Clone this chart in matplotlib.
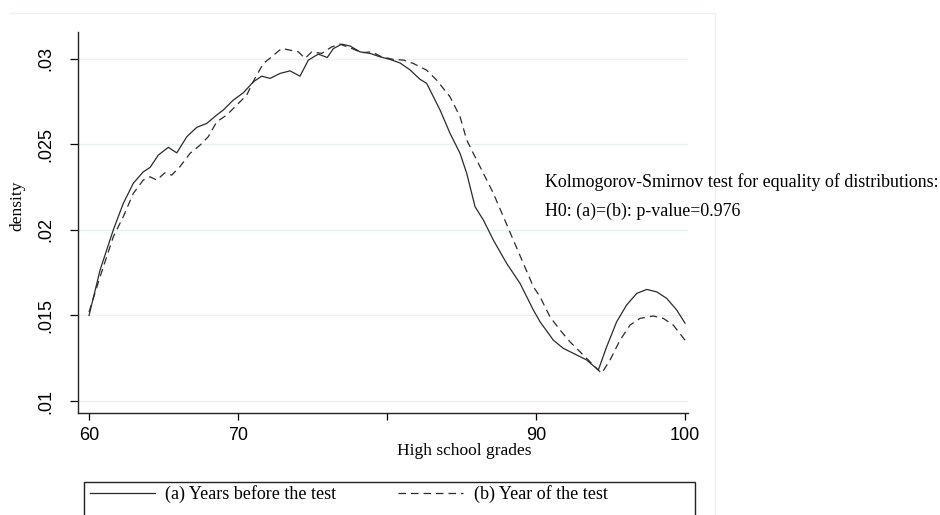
import matplotlib
matplotlib.use("Agg")
import matplotlib.pyplot as plt
from matplotlib.patches import Rectangle
from matplotlib.lines import Line2D

# -------------------------------
# Data
# -------------------------------
grades_a = [60.0, 60.74, 61.63, 62.3, 62.97, 63.64, 64.1, 64.65, 65.32, 65.89,
            66.56, 67.23, 67.9, 68.57, 69.01, 69.68, 70.36, 71.03, 71.59, 72.15,
            72.82, 73.49, 74.16, 74.72, 75.39, 75.99, 76.4, 76.96, 77.52, 78.19,
            78.86, 79.53, 80.2, 80.87, 81.54, 82.21, 82.66, 83.56, 84.23, 84.9,
            85.35, 85.91, 86.47, 87.14, 88.03, 88.93, 89.82, 90.27, 91.16, 91.83,
            92.5, 93.4, 94.18, 94.74, 95.41, 96.08, 96.76, 97.43, 98.1, 98.77,
            99.44, 100.0]
density_a = [0.0150, 0.01765, 0.0200, 0.02155, 0.02272, 0.02339, 0.02365, 0.02437,
             0.02482, 0.02450, 0.02544, 0.02599, 0.02622, 0.02671, 0.02700, 0.02758,
             0.02801, 0.02865, 0.02898, 0.02885, 0.02914, 0.02929, 0.02898, 0.02992,
             0.03027, 0.03007, 0.03059, 0.03085, 0.03074, 0.03040, 0.03031, 0.03011,
             0.02996, 0.02975, 0.02935, 0.02880, 0.02856, 0.02700, 0.02564, 0.02447,
             0.02330, 0.02135, 0.02057, 0.01940, 0.01804, 0.01687, 0.01532, 0.01463,
             0.01356, 0.01308, 0.01279, 0.01240, 0.01181, 0.01317, 0.01463, 0.01561,
             0.01629, 0.01652, 0.01638, 0.01600, 0.01532, 0.01455]

grades_b = [60.0, 60.74, 61.63, 62.3, 62.97, 63.64, 64.1, 64.54, 65.1, 65.55,
            66.1, 66.78, 67.45, 68.0, 68.57, 69.24, 69.91, 70.58, 71.1, 71.7,
            72.26, 72.93, 73.49, 74.05, 74.5, 74.95, 75.62, 76.29, 76.85, 77.63,
            78.3, 78.97, 79.64, 80.42, 81.1, 81.77, 82.66, 83.33, 84.23, 84.9,
            85.35, 85.79, 86.47, 87.14, 87.81, 88.48, 89.15, 89.82, 90.27, 90.94,
            91.61, 92.28, 92.95, 93.62, 94.4, 94.97, 95.64, 96.31, 96.98, 97.87,
            98.54, 99.21, 100.0]
density_b = [0.0152, 0.01726, 0.01960, 0.02077, 0.02213, 0.02291, 0.02310, 0.02291,
             0.02334, 0.02320, 0.02369, 0.02447, 0.02495, 0.02544, 0.02631, 0.02671,
             0.02729, 0.02787, 0.02880, 0.02972, 0.03011, 0.03060, 0.03050, 0.03040,
             0.03002, 0.03040, 0.03031, 0.03069, 0.03085, 0.03060, 0.03035, 0.03040,
             0.03011, 0.02996, 0.02992, 0.02972, 0.02933, 0.02875, 0.02777, 0.02661,
             0.02525, 0.02447, 0.02330, 0.02213, 0.02077, 0.01940, 0.01804, 0.01668,
             0.01609, 0.01492, 0.01415, 0.01346, 0.01288, 0.01230, 0.01162, 0.01240,
             0.01356, 0.01444, 0.01483, 0.01497, 0.01483, 0.01444, 0.01356]

x_ticks = [60, 70, 80, 90, 100]
x_tick_labels = ["60", "70", "", "90", "100"]
y_ticks = [0.01, 0.015, 0.02, 0.025, 0.03]
y_tick_labels = [".01", ".015", ".02", ".025", ".03"]

label_a = "(a) Years before the test"
label_b = "(b) Year of the test"
ks_line1 = "Kolmogorov-Smirnov test for equality of distributions:"
ks_line2 = "H0: (a)=(b): p-value=0.976"

SANS = "Liberation Sans"
SERIF = "Liberation Serif"
W, H = 940, 515


def fx(px):
    return px / W


def fy(py):
    return 1 - py / H


# -------------------------------
# Figure
# -------------------------------
fig = plt.figure(figsize=(9.4, 5.15), dpi=100)
ax = fig.add_axes([fx(78), fy(412.7), fx(688) - fx(78), fy(32) - fy(412.7)])

line_col = "#2b2b2b"
ax.plot(grades_a, density_a, color=line_col, lw=0.9, label=label_a)
ax.plot(grades_b, density_b, color=line_col, lw=0.9, linestyle=(0, (6, 4)), label=label_b)

ax.set_xlim(59.26, 100.2)
ax.set_ylim(0.00932, 0.03156)

ax.set_xticks(x_ticks)
ax.set_xticklabels(x_tick_labels, fontfamily=SANS, fontsize=13)
ax.set_yticks(y_ticks)
ax.set_yticklabels(y_tick_labels, fontfamily=SANS, fontsize=13, rotation=90, va="center")

ax.tick_params(axis="x", direction="out", length=5, width=0.9, pad=5)
ax.tick_params(axis="y", direction="out", length=6, width=0.9, pad=11)

for s in ["top", "right"]:
    ax.spines[s].set_visible(False)
for s in ["left", "bottom"]:
    ax.spines[s].set_linewidth(1.0)
    ax.spines[s].set_color("#222222")

ax.grid(axis="y", color="#e9f0f0", lw=1.0)
ax.set_axisbelow(True)

# axis titles
fig.text(fx(464), fy(451), "High school grades", family=SERIF, fontsize=12.5,
         ha="center", va="center")
fig.text(fx(17), fy(206), "density", family=SERIF, fontsize=12.5,
         rotation=90, ha="center", va="center")

# KS test note
fig.text(fx(545), fy(182), ks_line1, family=SERIF, fontsize=12.9, ha="left", va="center")
fig.text(fx(545), fy(211), ks_line2, family=SERIF, fontsize=12.9, ha="left", va="center")

# faint outer graph region
fig.add_artist(Line2D([fx(10), fx(715)], [fy(13), fy(13)], color="#edf1f1", lw=1))
fig.add_artist(Line2D([fx(715), fx(715)], [fy(13), fy(520)], color="#edf1f1", lw=1))

# legend box (runs past the bottom edge)
fig.add_artist(Rectangle((fx(84), fy(530)), fx(695) - fx(84), fy(482) - fy(530),
                         transform=fig.transFigure, fill=False,
                         edgecolor="#222222", lw=1.0, clip_on=False))
handles, labels = ax.get_legend_handles_labels()
fig.legend(handles, labels, loc="center left", bbox_to_anchor=(fx(86), fy(494)),
           ncol=2, frameon=False, prop={"family": SERIF, "size": 13},
           handlelength=3.6, handletextpad=0.6, columnspacing=3.4,
           borderpad=0.2, borderaxespad=0)

fig.savefig("out.png", dpi=100)
